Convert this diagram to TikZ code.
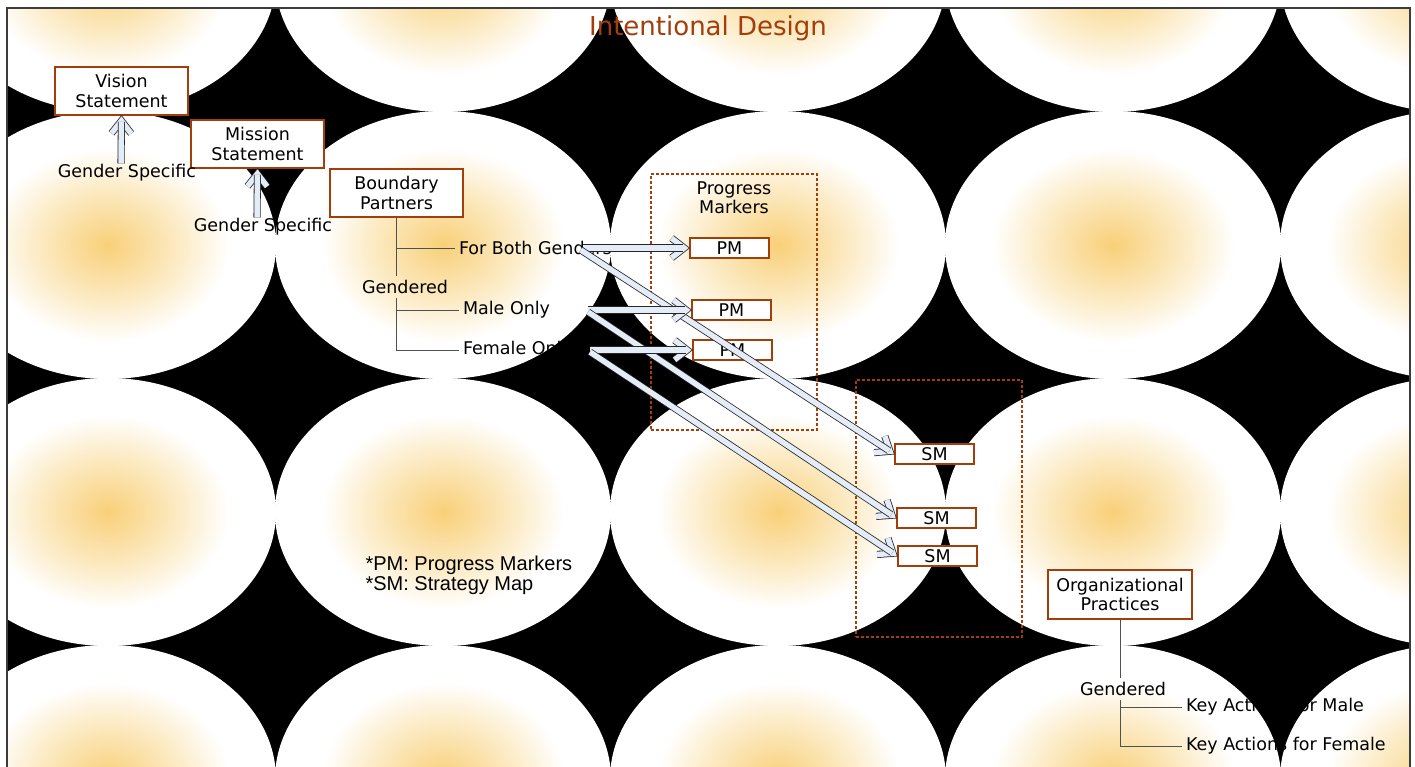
\documentclass[tikz,border=0pt]{standalone}
\usepackage{fontspec}
\setmainfont{DejaVu Sans}
\newfontfamily\notefont{Liberation Sans}
\usepackage{tikz}
\usetikzlibrary{arrows.meta,positioning,calc}
\definecolor{ochre}{RGB}{163,61,10}
\definecolor{glowc}{RGB}{248,208,120}
\definecolor{glowd}{RGB}{250,218,150}
\definecolor{glowe}{RGB}{252,236,200}
\definecolor{arrowfill}{RGB}{228,236,248}
\definecolor{framegray}{RGB}{60,60,60}
\definecolor{treegray}{RGB}{80,80,80}
\pgfdeclareradialshading{glow}{\pgfpoint{0bp}{0bp}}{color(0bp)=(glowc); color(4bp)=(glowd); color(11bp)=(glowe); color(18bp)=(white); color(50bp)=(white)}
\tikzstyle{mybox} = [draw=ochre, line width=1.6pt, fill=white, rectangle, align=center, inner sep=0pt, font=\fontsize{17.5}{19.5}\selectfont]
\tikzstyle{bigbox} = [mybox, minimum width=133pt, minimum height=48pt]
\tikzstyle{smallbox} = [mybox, minimum width=79pt, minimum height=20pt]
\tikzstyle{groupbox} = [draw=ochre, line width=1.3pt, dash pattern=on 3pt off 2pt, rectangle, inner sep=0pt]
\tikzstyle{plain} = [inner sep=2pt, outer sep=2pt, font=\fontsize{17.5}{19.5}\selectfont]
\tikzstyle{tree} = [draw=treegray, line width=0.9pt]
\tikzstyle{hollow} = [draw=black!85, line width=0.8pt, double=arrowfill, double distance=5.5pt]
% hollow block arrow from #1 to #2
\newcommand{\blockarrow}[2]{%
  \coordinate (tip) at ($(#2)!5pt!(#1)$);
  \draw[hollow, line join=miter] ($(tip)!16pt!38:(#1)$) -- (tip) -- ($(tip)!16pt!-38:(#1)$);
  \draw[hollow] (#1) -- ($(tip)!1pt!(#1)$);
}

\begin{document}
\begin{tikzpicture}[x=1pt,y=-1pt]
    \useasboundingbox (0,0) rectangle (1415,767);
    % Backdrop
    \fill[white] (0,0) rectangle (1415,767);
    \begin{scope}
      \clip (7,8) rectangle (1410,767);
      \fill[black] (7,8) rectangle (1410,767);
      \foreach \col in {0,...,4}
        \foreach \row in {0,...,3}
          \shade[shading=glow] ({108+335*\col},{-22+267*\row}) ellipse [x radius=168pt, y radius=134pt];
    \end{scope}
    \draw[framegray, line width=1.2pt] (7,767) -- (7,8) -- (1410,8) -- (1410,767);
    % Title text
    \node[text=ochre, font=\fontsize{26}{30}\selectfont] (Title) at (708,28) {Intentional Design};
    % Vision and mission
    \node[bigbox] (Vision) at (121.5,91) {Vision\\Statement};
    \node[bigbox] (Mission) at (257.5,144) {Mission\\Statement};
    \node[plain] (VisionNote) at (127,173) {Gender Specific};
    \node[plain] (MissionNote) at (263,227) {Gender Specific};
    % Boundary partners
    \node[bigbox] (Partners) at (396.5,193) {Boundary\\Partners};
    \node[plain, anchor=west] (Both) at (455,248) {For Both Genders};
    \node[plain] (Gendered) at (405,287) {Gendered};
    \node[plain, anchor=west] (Male) at (459,310) {Male Only};
    \node[plain, anchor=west] (Female) at (459,350) {Female Only};
    \draw[tree] (Partners.south) -- (Partners.south |- Gendered.north);
    \draw[tree] (Partners.south |- Both.west) -- (Both.west);
    \draw[tree] (Partners.south |- Gendered.south) -- (Partners.south |- Female.west) -- (Female.west);
    \draw[tree] (Partners.south |- Male.west) -- (Male.west);
    % Progress markers
    \node[groupbox, minimum width=166pt, minimum height=256pt] (PMgroup) at (734,302) {};
    \node[plain, align=center] (PMlabel) at (734,197.5) {Progress\\Markers};
    \node[smallbox] (PM1) at (729.5,248) {PM};
    \node[smallbox] (PM2) at (731.5,310) {PM};
    \node[smallbox] (PM3) at (732.5,350) {PM};
    % Strategy maps
    \node[groupbox, minimum width=166pt, minimum height=257pt] (SMgroup) at (939,508.5) {};
    \node[smallbox] (SM1) at (934.5,454) {SM};
    \node[smallbox] (SM2) at (936.5,518) {SM};
    \node[smallbox] (SM3) at (937.5,556) {SM};
    % Organizational practices
    \node[mybox, minimum width=144pt, minimum height=49pt] (Practices) at (1120,594.5) {Organizational\\Practices};
    \node[plain] (Gendered2) at (1123,689) {Gendered};
    \node[plain, anchor=west] (KeyMale) at (1182,707) {Key Actions for Male};
    \node[plain, anchor=west] (KeyFemale) at (1182,746) {Key Actions for Female};
    \draw[tree] (Practices.south) -- (Practices.south |- Gendered2.north);
    \draw[tree] (Practices.south |- Gendered2.south) -- (Practices.south |- KeyFemale.west) -- (KeyFemale.west);
    \draw[tree] (Practices.south |- KeyMale.west) -- (KeyMale.west);
    % Legend
    \node[font=\notefont\fontsize{20}{20}\selectfont, align=left, anchor=west] (Legend) at (362,575) {*PM: Progress Markers\\*SM: Strategy Map};
    % Arrow tails
    \coordinate (VisionTail) at ([xshift=-6pt,yshift=-3pt]VisionNote.north);
    \coordinate (MissionTail) at ([xshift=-6pt,yshift=-3pt]MissionNote.north);
    \coordinate (BothTail) at ([xshift=-33pt]Both.east);
    \coordinate (BothTail2) at ([xshift=-35pt,yshift=-2pt]Both.east);
    \coordinate (MaleTail) at ([xshift=34pt]Male.east);
    \coordinate (MaleTail2) at ([xshift=34pt,yshift=-2pt]Male.east);
    \coordinate (FemaleTail) at ([xshift=14pt]Female.east);
    \coordinate (FemaleTail2) at ([xshift=14pt,yshift=-2pt]Female.east);
    % Arrows
    \blockarrow{VisionTail}{Vision.south}
    \blockarrow{MissionTail}{Mission.south}
    \blockarrow{BothTail}{PM1.west}
    \blockarrow{BothTail2}{SM1.west}
    \blockarrow{MaleTail}{PM2.west}
    \blockarrow{MaleTail2}{SM2.west}
    \blockarrow{FemaleTail}{PM3.west}
    \blockarrow{FemaleTail2}{SM3.west}
\end{tikzpicture}
\end{document}
